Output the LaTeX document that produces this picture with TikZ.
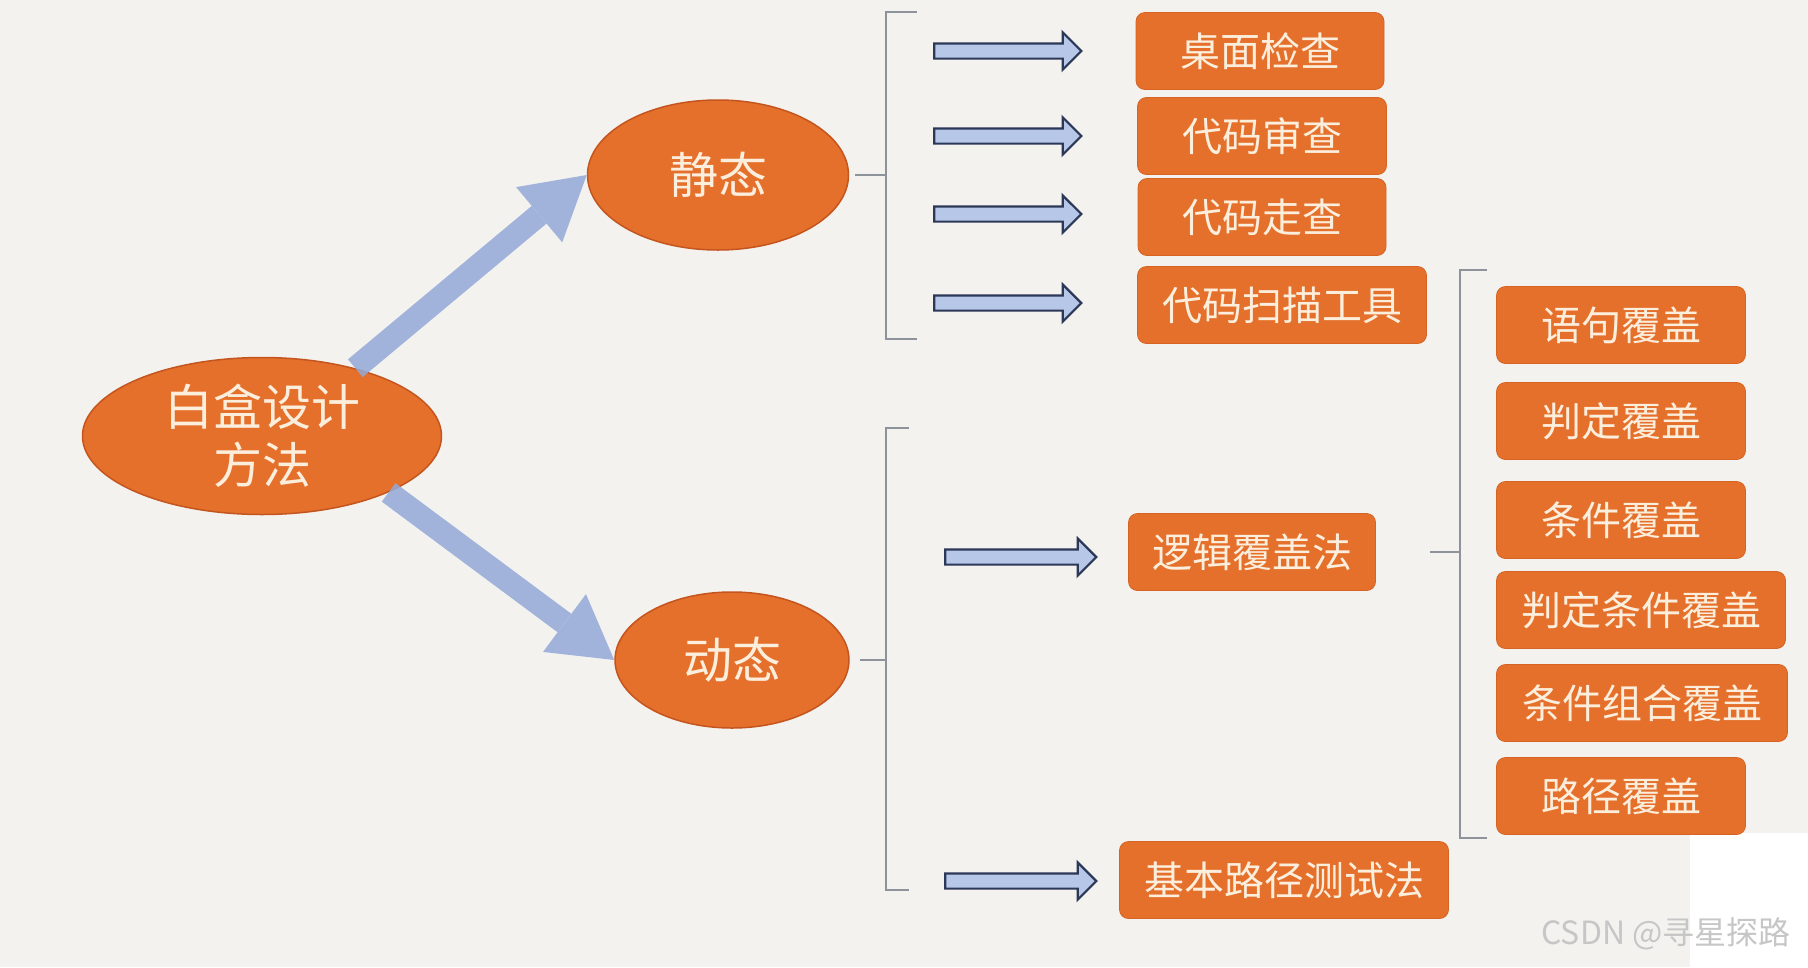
\documentclass[tikz,border=0pt]{standalone}
\usepackage{fontspec}
\setmainfont{Noto Sans CJK SC}
\usetikzlibrary{calc,arrows.meta,shapes.geometric,shapes.arrows}
\definecolor{wbOrange}{HTML}{E5702B}
\definecolor{wbEdge}{HTML}{C4551E}
\definecolor{wbText}{HTML}{FCEEDC}
\definecolor{wbBlue}{HTML}{93A9D8}
\definecolor{wbArrowFill}{HTML}{B7C7E8}
\definecolor{wbNavy}{HTML}{2C3857}
\definecolor{wbGray}{HTML}{8E929B}
\definecolor{wbPaper}{HTML}{F3F2EF}
\definecolor{wbMark}{HTML}{C6C6C6}

\begin{document}
\begin{tikzpicture}[
    x=1pt, y=-1pt,
    every node/.style={font=\fontsize{40}{46}\selectfont, text=wbText},
    oval/.style={ellipse, fill=wbOrange, draw=wbEdge, line width=1.5pt, inner sep=0pt,
      font=\fontsize{49}{58}\selectfont},
    method/.style={rounded corners=9pt, fill=wbOrange, draw=wbEdge!50!wbOrange,
      line width=0.8pt, minimum height=77pt, inner sep=0pt},
    fat/.style={wbBlue, line width=23pt, -{Triangle[length=62pt,width=72pt,line width=0pt]}},
    flow/.style={single arrow, draw=wbNavy, fill=wbArrowFill, line width=2.2pt,
      minimum height=147pt, inner xsep=0pt, inner ysep=6.5pt, single arrow head extend=11pt},
    bracket/.style={wbGray, line width=1.2pt},
  ]
  % Paper
  \fill[wbPaper] (0,0) rectangle (1808,967);
  \fill[white] (1690,833) rectangle (1808,967);
  \useasboundingbox (0,0) rectangle (1808,967);

  % The three ovals
  \node[oval, minimum width=359pt, minimum height=157pt, align=center] (main) at (262,436) {白盒设计\\方法};
  \node[oval, minimum width=261pt, minimum height=150pt] (stat) at (718,175) {静态};
  \node[oval, minimum width=234pt, minimum height=136pt] (dyn) at (732,660) {动态};

  % Static methods
  \node[method, minimum width=248pt] (desk) at (1260,51) {桌面检查};
  \node[method, minimum width=249pt] (review) at (1262,136) {代码审查};
  \node[method, minimum width=248pt] (walk) at (1262,217) {代码走查};
  \node[method, minimum width=289pt] (scan) at (1282,305) {代码扫描工具};

  % Dynamic methods
  \node[method, minimum width=247pt] (logic) at (1252,552) {逻辑覆盖法};
  \node[method, minimum width=329pt] (basis) at (1284,880) {基本路径测试法};

  % Kinds of logic coverage
  \node[method, minimum width=249pt] (stmt) at (1621,325) {语句覆盖};
  \node[method, minimum width=249pt] (decision) at (1621,421) {判定覆盖};
  \node[method, minimum width=249pt] (cond) at (1621,520) {条件覆盖};
  \node[method, minimum width=289pt] (deccond) at (1641,610) {判定条件覆盖};
  \node[method, minimum width=291pt] (multi) at (1642,703) {条件组合覆盖};
  \node[method, minimum width=249pt] (path) at (1621,796) {路径覆盖};

  % Block arrows in front of the boxes
  \node[flow] (toDesk) at (1004,51) {};
  \node[flow] (toReview) at (1004,136) {};
  \node[flow] (toWalk) at (1004,214) {};
  \node[flow] (toScan) at (1004,303) {};
  \node[flow, minimum height=151pt] (toLogic) at (1017,557) {};
  \node[flow, minimum height=151pt] (toBasis) at (1017,881) {};

  % Brackets
  \coordinate (statB) at (886,175);
  \coordinate (dynB) at (886,660);
  \coordinate (logicB) at (1460,552);
  \draw[bracket] (917,12) -- (886,12) -- (886,339) -- (917,339);
  \draw[bracket] ($(stat.east)+(6,0)$) -- (statB);
  \draw[bracket] (909,428) -- (886,428) -- (886,890) -- (909,890);
  \draw[bracket] ($(dyn.east)+(10,0)$) -- (dynB);
  \draw[bracket] (1487,270) -- (1460,270) -- (1460,838) -- (1487,838);
  \draw[bracket] ($(logic.east)+(54,0)$) -- (logicB);

  % Fat arrows out of the main oval
  \begin{scope}[transparency group, opacity=0.85]
    \draw[fat] (main.36) -- (stat.west);
    \draw[fat] (main.-24) -- (dyn.west);
  \end{scope}

  \node[text=wbMark, font=\fontsize{32}{36}\selectfont] (mark) at (1666,934) {CSDN @寻星探路};
\end{tikzpicture}
\end{document}
